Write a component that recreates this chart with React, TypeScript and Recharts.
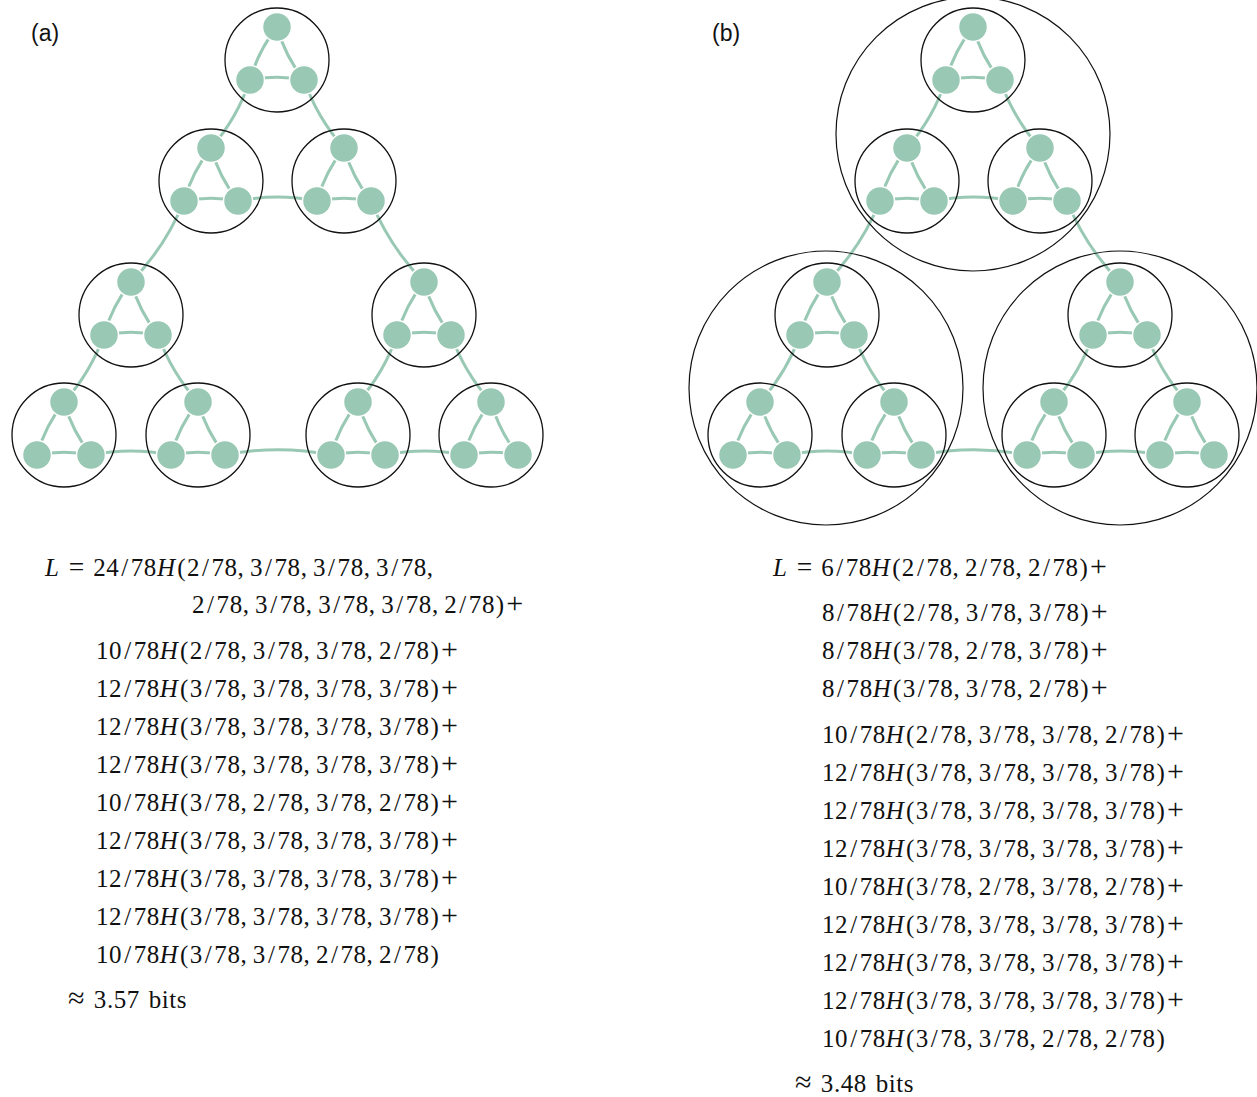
import React from "react";
import { ReferenceLine, Scatter, ScatterChart, XAxis, YAxis } from "recharts";

const W = 1257;
const H = 1097;
const GREEN = "#99c9b4";

// cluster centres (3 nodes each), panel (a) and (b)
const CLUSTERS_A = [
  { x: 277, y: 60 }, { x: 211, y: 181 }, { x: 344, y: 181 },
  { x: 131, y: 315 }, { x: 64, y: 435 }, { x: 198, y: 435 },
  { x: 424, y: 315 }, { x: 358, y: 435 }, { x: 491, y: 435 },
];
const CLUSTERS_B = [
  { x: 973, y: 60 }, { x: 907, y: 181 }, { x: 1040, y: 181 },
  { x: 827, y: 315 }, { x: 760, y: 435 }, { x: 894, y: 435 },
  { x: 1120, y: 315 }, { x: 1054, y: 435 }, { x: 1187, y: 435 },
];
// outer groups drawn only in (b)
const GROUPS_B = [{ x: 973, y: 134 }, { x: 826, y: 388 }, { x: 1120, y: 388 }];

// node slots inside a cluster: top, lower-left, lower-right
const SLOTS: Record<string, { dx: number; dy: number }> = {
  T: { dx: 0, dy: -33 },
  L: { dx: -27, dy: 20 },
  R: { dx: 27, dy: 20 },
};

const INNER_EDGES = [["T", "L"], ["T", "R"], ["R", "L"]];
const OUTER_EDGES = [
  ["1T", "0L"], ["0R", "2T"], ["2L", "1R"],
  ["3T", "1L"], ["2R", "6T"],
  ["4T", "3L"], ["3R", "5T"], ["5L", "4R"],
  ["7L", "5R"],
  ["7T", "6L"], ["6R", "8T"], ["8L", "7R"],
];

const FORMULA_A = [
  ["L = 24/78H(2/78, 3/78, 3/78, 3/78,", "2/78, 3/78, 3/78, 3/78, 2/78)+"],
  [
    "10/78H(2/78, 3/78, 3/78, 2/78)+",
    "12/78H(3/78, 3/78, 3/78, 3/78)+",
    "12/78H(3/78, 3/78, 3/78, 3/78)+",
    "12/78H(3/78, 3/78, 3/78, 3/78)+",
    "10/78H(3/78, 2/78, 3/78, 2/78)+",
    "12/78H(3/78, 3/78, 3/78, 3/78)+",
    "12/78H(3/78, 3/78, 3/78, 3/78)+",
    "12/78H(3/78, 3/78, 3/78, 3/78)+",
    "10/78H(3/78, 3/78, 2/78, 2/78)",
  ],
  ["≈ 3.57 bits"],
];
const FORMULA_B = [
  ["L = 6/78H(2/78, 2/78, 2/78)+"],
  ["8/78H(2/78, 3/78, 3/78)+", "8/78H(3/78, 2/78, 3/78)+", "8/78H(3/78, 3/78, 2/78)+"],
  [
    "10/78H(2/78, 3/78, 3/78, 2/78)+",
    "12/78H(3/78, 3/78, 3/78, 3/78)+",
    "12/78H(3/78, 3/78, 3/78, 3/78)+",
    "12/78H(3/78, 3/78, 3/78, 3/78)+",
    "10/78H(3/78, 2/78, 3/78, 2/78)+",
    "12/78H(3/78, 3/78, 3/78, 3/78)+",
    "12/78H(3/78, 3/78, 3/78, 3/78)+",
    "12/78H(3/78, 3/78, 3/78, 3/78)+",
    "10/78H(3/78, 3/78, 2/78, 2/78)",
  ],
  ["≈ 3.48 bits"],
];

// text layout: x of each line in a block, y of the first line centre
const LAYOUT_A = [
  { xs: [45, 192], y: 567 },
  { xs: [96], y: 651 },
  { xs: [68], y: 1000 },
];
const LAYOUT_B = [
  { xs: [773], y: 567 },
  { xs: [822], y: 613 },
  { xs: [822], y: 735 },
  { xs: [795], y: 1084 },
];
const LINE_H = 38;

function buildNodes(clusters: { x: number; y: number }[]) {
  const out: Record<string, { x: number; y: number }> = {};
  clusters.forEach((c, i) => {
    Object.entries(SLOTS).forEach(([k, s]) => {
      out[`${i}${k}`] = { x: c.x + s.dx, y: c.y + s.dy };
    });
  });
  return out;
}

function buildEdges(nodes: Record<string, { x: number; y: number }>, n: number) {
  const edges: { a: { x: number; y: number }; b: { x: number; y: number } }[] = [];
  for (let i = 0; i < n; i++) {
    INNER_EDGES.forEach(([p, q]) => edges.push({ a: nodes[`${i}${p}`], b: nodes[`${i}${q}`] }));
  }
  OUTER_EDGES.forEach(([p, q]) => edges.push({ a: nodes[p], b: nodes[q] }));
  return edges;
}

const nodesA = buildNodes(CLUSTERS_A);
const nodesB = buildNodes(CLUSTERS_B);
const edges = [...buildEdges(nodesA, CLUSTERS_A.length), ...buildEdges(nodesB, CLUSTERS_B.length)];
const allNodes = [...Object.values(nodesA), ...Object.values(nodesB)];
const allClusters = [...CLUSTERS_A, ...CLUSTERS_B];

// edges bow slightly to the right of their direction
const BOW = 0.1;
const bowed = (p: any) => {
  const { x1, y1, x2, y2 } = p;
  const dx = x2 - x1;
  const dy = y2 - y1;
  const cx = (x1 + x2) / 2 - BOW * dy;
  const cy = (y1 + y2) / 2 + BOW * dx;
  return <path d={`M${x1},${y1} Q${cx},${cy} ${x2},${y2}`} fill="none" stroke={GREEN} strokeWidth={3} />;
};

function Formula({ text }: { text: string }) {
  const isWords = text.startsWith("≈");
  const parts: React.ReactNode[] = [];
  [...text].forEach((ch, i) => {
    if (ch === "L" || ch === "H") parts.push(<i key={i} style={{ paddingRight: "0.04em" }}>{ch}</i>);
    else if (ch === "/") parts.push(<span key={i} style={{ padding: "0 0.08em" }}>/</span>);
    else if (ch === "=") parts.push(<span key={i} style={{ padding: "0 0.1em", fontSize: "1.1em" }}>=</span>);
    else if (ch === "+") parts.push(<span key={i} style={{ paddingLeft: "0.03em", fontSize: "1.2em", lineHeight: 0 }}>+</span>);
    else if (ch === "≈") parts.push(<span key={i} style={{ fontSize: "1.2em", lineHeight: 0 }}>≈</span>);
    else if (ch === "(" || ch === ")") parts.push(<span key={i} style={{ padding: "0 0.03em" }}>{ch}</span>);
    else parts.push(ch === " " && !isWords ? "\u2009" : ch);
  });
  return <span style={{ wordSpacing: isWords ? 2 : 0 }}>{parts}</span>;
}

function TextBlocks({ blocks, layout }: { blocks: string[][]; layout: { xs: number[]; y: number }[] }) {
  return (
    <>
      {blocks.map((lines, b) =>
        lines.map((line, j) => (
          <div
            key={`${b}-${j}`}
            style={{
              position: "absolute",
              left: layout[b].xs[Math.min(j, layout[b].xs.length - 1)],
              top: layout[b].y + j * LINE_H - LINE_H / 2,
              lineHeight: `${LINE_H}px`,
              fontFamily: "'Liberation Serif', serif",
              fontSize: 25,
              letterSpacing: 0.55,
              whiteSpace: "nowrap",
              color: "#111",
            }}
          >
            <Formula text={line} />
          </div>
        ))
      )}
    </>
  );
}

const label = (x: number): React.CSSProperties => ({
  position: "absolute",
  left: x,
  top: 19,
  fontFamily: "'Liberation Sans', Arial, sans-serif",
  fontSize: 23,
  lineHeight: "28px",
  color: "#111",
});

export default function App() {
  return (
    <div style={{ position: "absolute", left: 0, top: 0, width: W, height: H, background: "#fff", overflow: "hidden" }}>
      <ScatterChart width={W} height={H} margin={{ top: 0, right: 0, bottom: 0, left: 0 }}>
        <XAxis type="number" dataKey="x" domain={[0, W]} allowDataOverflow hide />
        <YAxis type="number" dataKey="y" domain={[0, H]} allowDataOverflow reversed hide />
        {edges.map((e, i) => (
          <ReferenceLine key={i} segment={[e.a, e.b]} shape={bowed} ifOverflow="visible" />
        ))}
        <Scatter
          data={allClusters}
          isAnimationActive={false}
          shape={(p: any) => <circle cx={p.cx} cy={p.cy} r={52} fill="none" stroke="#111" strokeWidth={1.3} />}
        />
        <Scatter
          data={GROUPS_B}
          isAnimationActive={false}
          shape={(p: any) => <circle cx={p.cx} cy={p.cy} r={137} fill="none" stroke="#111" strokeWidth={1.2} />}
        />
        <Scatter
          data={allNodes}
          isAnimationActive={false}
          shape={(p: any) => <circle cx={p.cx} cy={p.cy} r={14.5} fill={GREEN} stroke="#fff" strokeWidth={1.5} />}
        />
      </ScatterChart>
      <div style={label(31)}>(a)</div>
      <div style={label(712)}>(b)</div>
      <TextBlocks blocks={FORMULA_A} layout={LAYOUT_A} />
      <TextBlocks blocks={FORMULA_B} layout={LAYOUT_B} />
    </div>
  );
}
